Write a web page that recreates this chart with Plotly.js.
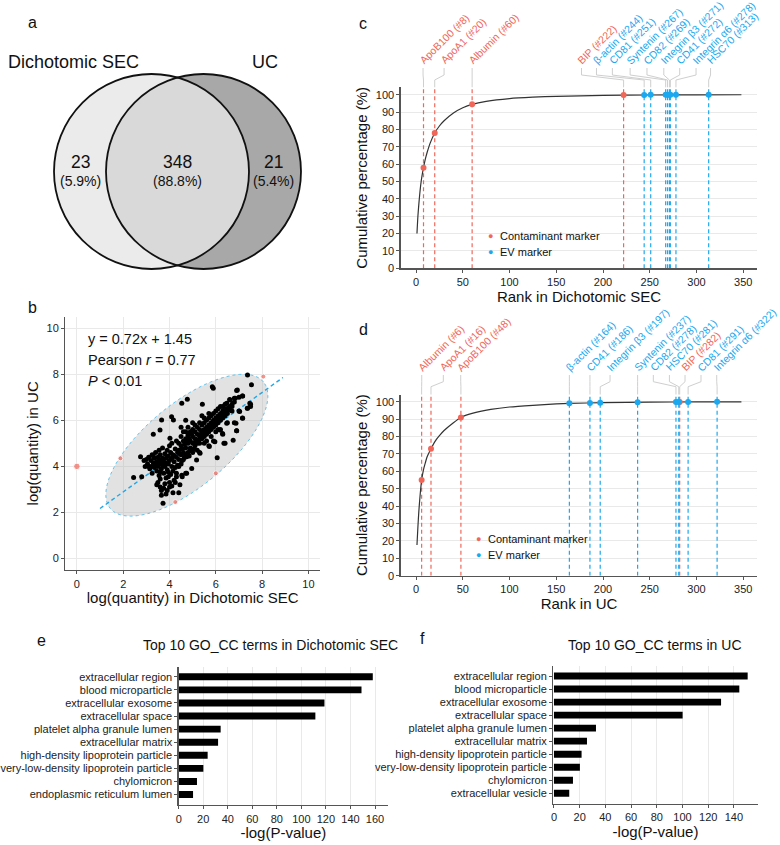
<!DOCTYPE html>
<html><head><meta charset="utf-8">
<script src="https://cdn.plot.ly/plotly-3.0.1.min.js"></script>
<style>body{margin:0;background:#fff}#chart{width:780px;height:845px}</style>
</head><body><div id="chart"></div>
<script>
// ---------------- DATA ----------------
// a: Venn
const vennSets = ['Dichotomic SEC', 'UC'];
const vennCounts = [23, 348, 21];            // SEC only, shared, UC only
const vennPercents = ['5.9%', '88.8%', '5.4%'];

// b: scatter log(quantity)
const scatterPairs = [
[2.45,3.52],[2.8,3.55],[2.75,4.42],[2.95,4.0],[3.0,4.3],[3.05,4.1],[3.1,4.4],[3.15,3.9],[3.2,4.25],[3.25,4.5],
[3.25,3.7],[3.3,4.15],[3.35,4.35],[3.35,3.95],[3.4,4.6],[3.45,4.2],[3.45,3.8],[3.5,4.4],[3.5,4.0],[3.55,4.7],
[3.55,3.6],[3.6,4.25],[3.6,4.5],[3.65,3.9],[3.65,4.1],[3.7,4.35],[3.7,4.8],[3.75,3.7],[3.75,4.2],[3.8,4.55],
[3.8,4.0],[3.85,3.5],[3.85,4.35],[3.9,4.7],[3.9,3.85],[3.95,4.1],[3.95,4.45],[4.0,3.3],[4.0,4.25],[4.0,4.9],
[4.05,3.65],[4.05,4.6],[4.1,4.0],[4.1,4.35],[4.1,5.0],[4.15,3.8],[4.15,4.5],[4.2,4.2],[4.2,3.4],[4.25,4.75],
[4.25,3.95],[4.3,4.4],[4.3,3.7],[4.3,5.1],[4.35,4.05],[4.35,4.6],[3.1,4.0],[3.3,4.45],[3.4,4.05],[3.55,4.3],
[3.7,4.05],[3.85,4.15],[3.5,4.15],[3.2,4.0],[2.9,4.25],[3.6,3.75],[3.95,3.75],[4.2,4.45],
[3.5,3.3],[3.6,3.1],[3.65,2.75],[3.72,2.4],[3.75,3.05],[3.9,2.95],[4.0,3.1],[4.15,2.85],[4.25,3.3],[4.4,2.85],
[4.45,3.2],[4.55,3.55],[4.3,3.55],[3.95,3.55],[3.6,3.45],[3.45,3.2],[4.7,3.7],[4.53,3.62],[4.74,3.7],[4.96,3.91],
[3.8,3.25],[4.1,3.15],[3.65,2.95],[3.85,2.8],
[4.4,4.3],[4.4,4.7],[4.4,5.0],[4.4,4.0],[4.5,4.5],[4.5,4.9],[4.5,5.3],[4.5,4.1],[4.5,5.7],[4.6,4.6],
[4.6,5.1],[4.6,4.3],[4.6,5.5],[4.7,4.8],[4.7,5.2],[4.7,4.5],[4.7,5.5],[4.7,6.0],[4.8,5.0],[4.8,4.6],
[4.8,5.35],[4.8,5.7],[4.9,5.1],[4.9,4.8],[4.9,5.5],[4.9,4.7],[5.0,5.0],[5.0,5.3],[5.0,4.6],[5.0,5.6],
[5.0,5.9],[5.1,5.2],[5.1,4.9],[5.1,5.5],[5.1,5.8],[5.2,5.4],[5.2,5.0],[5.2,5.7],[5.2,4.7],[5.3,5.3],
[5.3,5.6],[5.3,5.0],[5.3,5.9],[5.3,4.6],[5.4,5.5],[5.4,5.2],[5.4,5.8],[5.4,6.2],[5.5,5.6],[5.5,5.3],
[5.5,5.9],[5.5,5.0],[5.5,6.1],[5.6,5.7],[5.6,5.4],[5.6,6.0],[5.6,5.1],[5.7,5.8],[5.7,5.5],[5.7,6.1],
[5.7,4.9],[5.7,6.3],[5.8,5.9],[5.8,5.6],[5.8,6.2],[5.8,5.3],[5.9,6.0],[5.9,5.7],[5.9,6.3],[5.9,5.1],
[6.0,6.1],[6.0,5.8],[6.0,6.4],[6.0,5.5],[6.1,6.2],[6.1,5.9],[6.1,6.5],[6.1,5.6],[6.2,6.3],[6.2,6.0],
[6.2,6.6],[6.2,5.6],[6.3,6.4],[6.3,6.1],[6.3,6.6],[6.3,5.4],[6.4,6.5],[6.4,6.2],[6.4,6.7],[6.4,5.0],
[6.5,6.5],[6.5,6.3],[6.5,5.9],[6.6,6.6],[6.6,6.9],[6.6,6.45],[6.7,6.7],[6.7,6.4],[6.7,6.6],[6.8,6.8],
[6.8,6.96],[6.8,5.9],[6.9,7.3],[6.9,5.55],[7.0,6.4],[7.0,7.0],[7.15,6.1],[7.15,7.06],[7.37,7.97],[7.37,6.52],
[7.5,6.7],[7.5,6.6],[7.54,7.54],
[4.45,4.55],[4.55,4.75],[4.65,4.95],[4.75,5.05],[4.85,5.2],[4.95,5.4],[4.55,4.25],[4.65,4.4],[4.85,4.45],[5.05,4.75],
[5.15,5.05],[5.25,5.15],[5.35,5.4],[5.45,5.45],[5.55,5.5],[5.65,5.6],[5.75,5.65],[5.85,5.75],[5.95,5.9],[6.05,6.0],
[6.15,6.05],[6.25,6.2],[6.35,6.3],[6.45,6.4],[6.55,6.55],
[5.85,7.46],[5.89,7.39],[4.77,6.91],[4.53,6.74],[5.42,6.7],[3.3,5.39],[3.59,5.58],[3.66,6.01],[4.09,6.16],[4.17,6.01],
[4.02,5.22],[6.06,4.38],[5.72,4.86],[5.96,5.07],[6.29,5.43],[6.35,5.0],[6.75,5.14],[6.9,5.55],[6.47,5.87],[6.18,5.58],
[5.32,4.57],[4.89,4.71],[4.74,4.42],[5.17,4.28],[6.93,7.32],[7.16,7.06],[6.84,6.96],[7.47,6.74],[7.36,6.52],[6.47,6.74],
[6.61,6.88],[7.03,6.38],[7.16,6.09],[6.87,5.87]
];
const outlierX = [0, 1.88, 4.25, 6.0, 8.05];
const outlierY = [4.0, 4.35, 2.45, 3.7, 7.9];
const regSlope = 0.72, regIntercept = 1.45, pearsonR = 0.77;
const regXRange = [1.0, 8.9];
const ellipseCenter = [4.75, 4.92], ellipseAxes = [4.3, 1.8], ellipseAngleDeg = 39.8;

// c: cumulative percentage, Dichotomic SEC
const rankC = [1,2,3,4,5,6,8,10,12,15,20,25,30,40,50,60,75,100,125,150,200,250,300,348];
const cumC  = [20,30,37,43,48,52,58,63,67,72,78,82,85,89.5,92.5,94.5,96.2,97.8,98.6,99.1,99.6,99.85,99.95,100];
const markerNamesC = ['ApoB100','ApoA1','Albumin','BIP','β-actin','CD81','Syntenin','CD82','Integrin β3','CD41','Integrin α6','HSC70'];
const markerRanksC = [8,20,60,222,244,251,267,269,271,272,278,313];
const markerTypesC = ['C','C','C','C','E','E','E','E','E','E','E','E'];
const markerValsC  = [58,78,94.5,99.9,99.9,99.95,100,100,100,100,100,100];

// d: cumulative percentage, UC
const rankD = [1,2,3,4,5,6,8,10,12,16,20,25,30,40,48,60,80,100,125,150,164,200,250,300,348];
const cumD  = [17.6,28,37,44,50,55,61,65,68.5,73,77,80.5,83.5,88,91,93.3,95.6,97,98,98.8,99.1,99.5,99.8,99.95,100];
const markerNamesD = ['Albumin','ApoA1','ApoB100','β-actin','CD41','Integrin β3','Syntenin','CD82','HSC70','BIP','CD81','Integrin α6'];
const markerRanksD = [6,16,48,164,186,197,237,278,281,282,291,322];
const markerTypesD = ['C','C','C','E','E','E','E','E','E','C','E','E'];
const markerValsD  = [55,73,91,99.1,99.3,99.4,99.7,99.9,99.9,99.9,99.95,100];

// e, f: GO cellular component terms
const goTermsE = ['extracellular region','blood microparticle','extracellular exosome','extracellular space','platelet alpha granule lumen','extracellular matrix','high-density lipoprotein particle','very-low-density lipoprotein particle','chylomicron','endoplasmic reticulum lumen'];
const goValsE  = [158.2,149,118.8,111.4,34.2,32.1,23.6,20.1,14.9,11.7];
const goTermsF = ['extracellular region','blood microparticle','extracellular exosome','extracellular space','platelet alpha granule lumen','extracellular matrix','high-density lipoprotein particle','very-low-density lipoprotein particle','chylomicron','extracellular vesicle'];
const goValsF  = [150.7,144.2,130,100.1,32.7,25.7,21.5,20.2,14.8,11.9];

// ---------------- LAYOUT HELPERS ----------------
const W = 780, H = 845;
const PX = x => x / W, PY = y => 1 - y / H;
const FONT = 'Liberation Sans, Arial, Helvetica, sans-serif';
const RED = '#f0675a', BLUE = '#1ba8ef';
const colorOf = t => t === 'C' ? RED : BLUE;

// label anchor positions (rank units) for the rotated marker labels
const labelPosC = [7.5, 30, 60, 177, 193, 210, 229, 247, 265, 282, 299.5, 315];
const labelPosD = [6.1, 29.2, 47.8, 164, 186, 207.5, 237, 253.8, 271, 287.7, 304.8, 321.6];
const yTopC = 104.3, yTopD = 104.2;

const baseAxis = {
  showline: true, linecolor: '#555', linewidth: 1.3, ticks: 'outside', ticklen: 3,
  tickwidth: 1, tickcolor: '#555', tickfont: {family: FONT, size: 11, color: '#222'},
  zeroline: false, gridcolor: '#e9e9e9', gridwidth: 1, fixedrange: true
};
const ax = (o) => Object.assign({}, baseAxis, o);
const ttl = (text, standoff) => ({text, font: {family: FONT, size: 15, color: '#111'}, standoff});

const traces = [];
const shapes = [];
const annotations = [];

// ---------- a: Venn ----------
const vL = {cx: 151.5, cy: 171.5, r: 97.5}, vR = {cx: 203.5, cy: 171.5, r: 97.5};
const circ = (c, fill, line) => ({type: 'circle', xref: 'paper', yref: 'paper',
  x0: PX(c.cx - c.r), x1: PX(c.cx + c.r), y0: PY(c.cy + c.r), y1: PY(c.cy - c.r),
  fillcolor: fill, line: line});
shapes.push(circ(vL, '#ebebeb', {width: 0}));
shapes.push(circ(vR, '#a8a8a8', {width: 0}));
(function () {
  const d = vR.cx - vL.cx, alpha = Math.acos((d / 2) / vL.r);
  const pts = [];
  const n = 60;
  for (let i = 0; i <= n; i++) { const t = -alpha + 2 * alpha * i / n; pts.push([vL.cx + vL.r * Math.cos(t), vL.cy + vL.r * Math.sin(t)]); }
  for (let i = 0; i <= n; i++) { const t = Math.PI - alpha + 2 * alpha * i / n; pts.push([vR.cx + vR.r * Math.cos(t), vR.cy + vR.r * Math.sin(t)]); }
  const path = pts.map((p, i) => (i ? 'L' : 'M') + PX(p[0]).toFixed(5) + ',' + PY(p[1]).toFixed(5)).join(' ') + ' Z';
  shapes.push({type: 'path', xref: 'paper', yref: 'paper', path, fillcolor: '#d9d9d9', line: {width: 0}});
})();
shapes.push(circ(vL, 'rgba(0,0,0,0)', {color: '#111', width: 1.8}));
shapes.push(circ(vR, 'rgba(0,0,0,0)', {color: '#111', width: 1.8}));
const pAnn = (x, y, text, size, extra) => Object.assign({xref: 'paper', yref: 'paper', x: PX(x), y: PY(y),
  text, showarrow: false, font: {family: FONT, size, color: '#111'}, xanchor: 'center', yanchor: 'middle'}, extra || {});
annotations.push(pAnn(73, 62, vennSets[0], 18));
annotations.push(pAnn(265, 62, vennSets[1], 18));
[[80.5, vennCounts[0], vennPercents[0]], [177.5, vennCounts[1], vennPercents[1]], [273, vennCounts[2], vennPercents[2]]].forEach(v => {
  annotations.push(pAnn(v[0], 161.5, String(v[1]), 17.5));
  annotations.push(pAnn(v[0], 181, '(' + v[2] + ')', 14));
});
// panel letters
[['a', 32, 22], ['b', 32, 307], ['c', 363, 23], ['d', 363, 329], ['e', 41, 640], ['f', 422, 638]].forEach(l =>
  annotations.push(pAnn(l[1], l[2], l[0], 16)));

// ---------- b: scatter ----------
(function () {
  const [cx, cy] = ellipseCenter, [a, b] = ellipseAxes, th = ellipseAngleDeg * Math.PI / 180;
  const pts = [];
  for (let i = 0; i < 120; i++) {
    const t = 2 * Math.PI * i / 120;
    pts.push([cx + a * Math.cos(t) * Math.cos(th) - b * Math.sin(t) * Math.sin(th),
              cy + a * Math.cos(t) * Math.sin(th) + b * Math.sin(t) * Math.cos(th)]);
  }
  const path = pts.map((p, i) => (i ? 'L' : 'M') + p[0].toFixed(4) + ',' + p[1].toFixed(4)).join(' ') + ' Z';
  shapes.push({type: 'path', xref: 'x', yref: 'y', path, layer: 'between',
    fillcolor: 'rgba(180,180,180,0.38)', line: {color: '#5ec3ee', width: 1, dash: 'dot'}});
})();
traces.push({type: 'scatter', mode: 'lines', xaxis: 'x', yaxis: 'y', hoverinfo: 'skip',
  x: regXRange, y: regXRange.map(v => regSlope * v + regIntercept),
  line: {color: '#23a6e6', width: 1.4, dash: '4px,3px'}});
traces.push({type: 'scatter', mode: 'markers', xaxis: 'x', yaxis: 'y', hoverinfo: 'skip',
  x: scatterPairs.map(p => p[0]), y: scatterPairs.map(p => p[1]),
  marker: {color: '#000', size: 5}});
traces.push({type: 'scatter', mode: 'markers', xaxis: 'x', yaxis: 'y', hoverinfo: 'skip',
  x: outlierX, y: outlierY, marker: {color: RED, size: outlierX.map((v, i) => i === 0 ? 6.5 : 5)}});
annotations.push(pAnn(86, 339, `y = ${regSlope}x + ${regIntercept}`, 14.5, {xanchor: 'left'}));
annotations.push(pAnn(86, 360, `Pearson <i>r</i> = ${pearsonR}`, 14.5, {xanchor: 'left'}));
annotations.push(pAnn(86, 381, '<i>P</i> < 0.01', 14.5, {xanchor: 'left'}));

// ---------- c, d: cumulative ----------
function cumPanel(xa, ya, yTop, ranks, cums, names, mRanks, types, vals, labelPos, g) {
  // dashed verticals through the whole plot height
  mRanks.forEach((r, i) => {
    traces.push({type: 'scatter', mode: 'lines', xaxis: xa, yaxis: ya, hoverinfo: 'skip',
      x: [r, r], y: [0, yTop], line: {color: colorOf(types[i]), width: 1.2, dash: '4px,3px'}});
  });
  traces.push({type: 'scatter', mode: 'lines', xaxis: xa, yaxis: ya, hoverinfo: 'skip',
    x: ranks, y: cums, line: {color: '#333', width: 1.2, shape: 'spline', smoothing: 0.6}});
  mRanks.forEach((r, i) => {
    const col = colorOf(types[i]);
    const lx = labelPos[i];
    shapes.push({type: 'path', xref: xa, yref: 'paper',
      path: `M${lx},${PY(g.top)} L${lx},${PY(g.b)} L${r},${PY(g.c)} L${r},${PY(g.end)}`,
      line: {color: '#cfcfcf', width: 1}});
    annotations.push({xref: xa, yref: 'paper', x: lx, y: PY(g.base), xanchor: 'left', yanchor: 'bottom',
      xshift: -9, textangle: -45, showarrow: false, text: `${names[i]} (#${r})`,
      font: {family: FONT, size: 10.5, color: col}});
  });
  ['C', 'E'].forEach(t => {
    const idx = types.map((v, i) => v === t ? i : -1).filter(i => i >= 0);
    traces.push({type: 'scatter', mode: 'markers', xaxis: xa, yaxis: ya, hoverinfo: 'skip', cliponaxis: false,
      x: idx.map(i => mRanks[i]), y: idx.map(i => vals[i]), marker: {color: colorOf(t), size: 6}});
  });
  // legend
  annotations.push(pAnn(g.lx, g.ly, '●', 9, {font: {family: FONT, size: 9, color: RED}}));
  annotations.push(pAnn(g.lx, g.ly + 15.7, '●', 9, {font: {family: FONT, size: 9, color: BLUE}}));
  annotations.push(pAnn(g.lx + 7.5, g.ly, 'Contaminant marker', 11, {xanchor: 'left'}));
  annotations.push(pAnn(g.lx + 7.5, g.ly + 15.7, 'EV marker', 11, {xanchor: 'left'}));
}
cumPanel('x2', 'y2', yTopC, rankC, cumC, markerNamesC, markerRanksC, markerTypesC, markerValsC, labelPosC,
  {base: 69, top: 68, b: 75, c: 80, end: 87.3, lx: 490.7, ly: 236});
cumPanel('x3', 'y3', yTopD, rankD, cumD, markerNamesD, markerRanksD, markerTypesD, markerValsD, labelPosD,
  {base: 376, top: 375, b: 381.7, c: 386.7, end: 394.5, lx: 478.3, ly: 539});

// ---------- e, f: GO bars ----------
traces.push({type: 'bar', orientation: 'h', xaxis: 'x4', yaxis: 'y4', hoverinfo: 'skip',
  x: goValsE, y: goTermsE, marker: {color: '#000', line: {width: 0}}});
traces.push({type: 'bar', orientation: 'h', xaxis: 'x5', yaxis: 'y5', hoverinfo: 'skip',
  x: goValsF, y: goTermsF, marker: {color: '#000', line: {width: 0}}});
annotations.push(pAnn(270, 645, 'Top 10 GO_CC terms in Dichotomic SEC', 14));
annotations.push(pAnn(655, 645, 'Top 10 GO_CC terms in UC', 14));

const layout = {
  width: W, height: H, margin: {l: 0, r: 0, t: 0, b: 0}, paper_bgcolor: '#fff', plot_bgcolor: 'rgba(0,0,0,0)',
  showlegend: false, font: {family: FONT, color: '#111'}, bargap: 0.47,
  xaxis: ax({domain: [PX(65.3), PX(320)], anchor: 'y', range: [-0.5, 10.5], tickvals: [0, 2, 4, 6, 8, 10], showgrid: true,
    title: ttl('log(quantity) in Dichotomic SEC', 4)}),
  yaxis: ax({domain: [PY(570), PY(316.7)], anchor: 'x', range: [-0.5, 10.5], tickvals: [0, 2, 4, 6, 8, 10], showgrid: true,
    title: ttl('log(quantity) in UC', 4)}),
  xaxis2: ax({domain: [PX(400.7), PX(757.3)], anchor: 'y2', range: [-16.4, 365], tickvals: [0, 50, 100, 150, 200, 250, 300, 350], showgrid: false,
    title: ttl('Rank in Dichotomic SEC', 3)}),
  yaxis2: ax({domain: [PY(268.3), PY(87.3)], anchor: 'x2', range: [0, yTopC], dtick: 10, tick0: 0, showgrid: true,
    title: ttl('Cumulative percentage (%)', 4)}),
  xaxis3: ax({domain: [PX(400.7), PX(757.3)], anchor: 'y3', range: [-16.4, 365], tickvals: [0, 50, 100, 150, 200, 250, 300, 350], showgrid: false,
    title: ttl('Rank in UC', 3)}),
  yaxis3: ax({domain: [PY(575.7), PY(394.5)], anchor: 'x3', range: [0, yTopD], dtick: 10, tick0: 0, showgrid: true,
    title: ttl('Cumulative percentage (%)', 4)}),
  xaxis4: ax({domain: [PX(178.7), PX(388)], anchor: 'y4', range: [0, 170.6], dtick: 20, tick0: 0, showgrid: true,
    title: ttl('-log(P-value)', 2)}),
  yaxis4: ax({domain: [PY(805), PY(666.7)], anchor: 'x4', type: 'category', categoryorder: 'array', categoryarray: goTermsE,
    range: [9.8, -0.77], showgrid: false}),
  xaxis5: ax({domain: [PX(553.3), PX(757.7)], anchor: 'y5', range: [-0.5, 158.5], dtick: 20, tick0: 0, showgrid: true,
    title: ttl('-log(P-value)', 2)}),
  yaxis5: ax({domain: [PY(803.7), PY(666)], anchor: 'x5', type: 'category', categoryorder: 'array', categoryarray: goTermsF,
    range: [9.8, -0.77], showgrid: false}),
  shapes, annotations
};
Plotly.newPlot('chart', traces, layout, {displayModeBar: false, staticPlot: true});
</script>
</body></html>
